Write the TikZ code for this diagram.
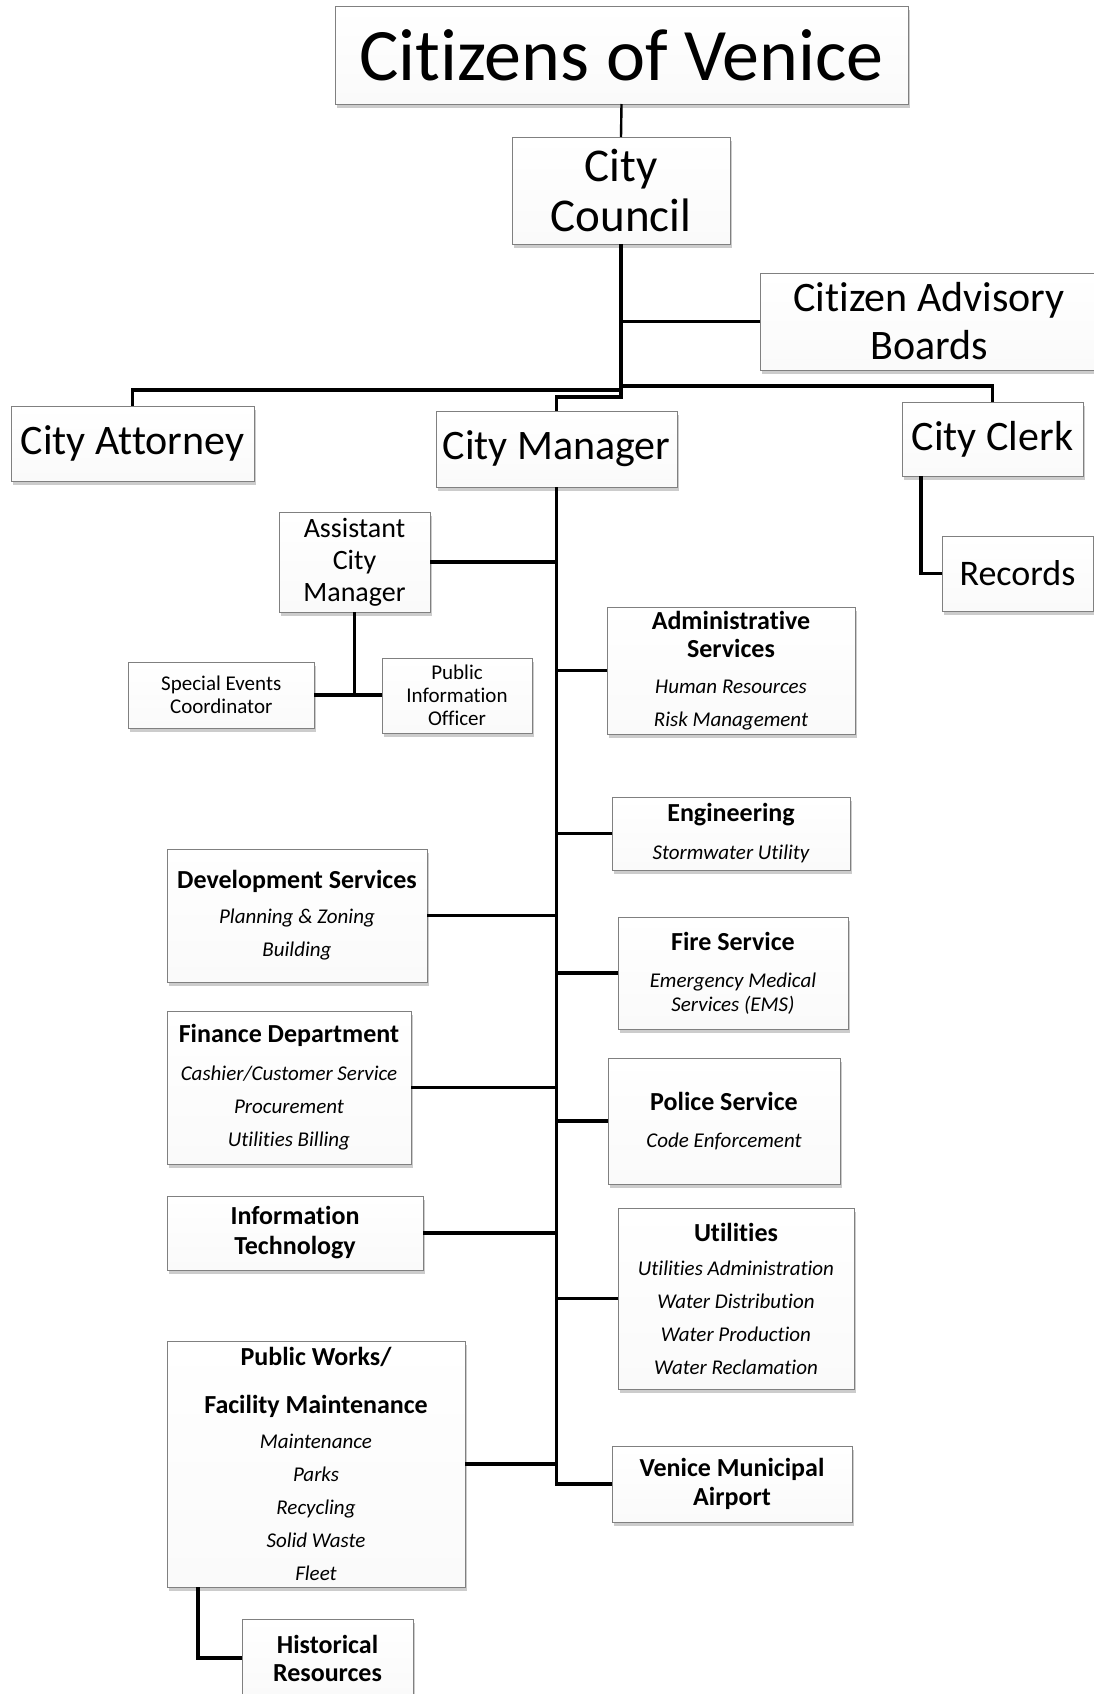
\documentclass[tikz,border=0pt]{standalone}
\usepackage{fontspec}
\setmainfont{Carlito}[Ligatures={NoCommon}]
\usetikzlibrary{shadows}
\newcommand\dhead[1]{{\fontsize{26}{28}\selectfont\bfseries #1}}
\newcommand\ditem[1]{{\fontsize{21}{24}\selectfont\itshape #1}}
\newcommand\orgbox[7][]{\node[box,#1,minimum width={(#5-#3)*1pt},minimum height={(#6-#4)*1pt}] (#2) at ({(#3+#5)/2},{(#4+#6)/2}) {#7};}
\tikzset{
  box/.style={draw=black!50, line width=1pt, inner sep=0pt, outer sep=0pt, align=center,
    top color=white, bottom color=black!2,
    drop shadow={shadow xshift=1.5pt, shadow yshift=-3.5pt, opacity=0.2, fill=black},
    font=\fontsize{21}{33}\selectfont},
  conn/.style={line width=3.2pt, draw=black},
  thinconn/.style={line width=2.4pt, draw=black}
}
\begin{document}
\begin{tikzpicture}[x=1pt,y=-1pt]
\useasboundingbox (0,0) rectangle (1094,1694);
% top level
\orgbox[font=\fontsize{74}{80}\selectfont]{cov}{335}{6.5}{908}{104}{Citizens of Venice}
\orgbox[font=\fontsize{47}{50}\selectfont]{cc}{512}{137}{730}{244}{City\\Council}
\orgbox[font=\fontsize{42}{48}\selectfont]{adv}{760}{273}{1098}{370}{Citizen Advisory\\Boards}
\orgbox[font=\fontsize{42}{48}\selectfont]{att}{11}{406}{254}{481}{City Attorney}
\orgbox[font=\fontsize{42}{48}\selectfont]{cm}{436}{411}{677}{487}{City Manager}
\orgbox[font=\fontsize{42}{48}\selectfont]{clerk}{902}{402}{1083}{476}{City Clerk}
\orgbox[font=\fontsize{36}{40}\selectfont]{rec}{942}{536}{1093}{611}{Records}
% assistant city manager group
\orgbox[font=\fontsize{28}{32}\selectfont]{acm}{279}{512}{430}{612}{Assistant\\City\\Manager}
\orgbox[font=\fontsize{21}{23}\selectfont]{sec}{128.5}{662}{314}{728}{Special Events\\Coordinator}
\orgbox[font=\fontsize{21}{23}\selectfont]{pio}{382}{658}{532}{733}{Public\\Information\\Officer}
% right-hand departments
\orgbox{admin}{607}{607}{855}{734}{\dhead{Administrative}\\[-5pt]\dhead{Services}\\[3pt]\ditem{Human Resources}\\\ditem{Risk Management}}
\orgbox{eng}{612}{797}{850}{870}{\dhead{Engineering}\\[5pt]\ditem{Stormwater Utility}}
\orgbox{fire}{618}{917}{848}{1029}{\dhead{Fire Service}\\[4pt]\ditem{Emergency Medical}\\[-9pt]\ditem{Services (EMS)}}
\orgbox{police}{608}{1058}{840}{1184}{\dhead{Police Service}\\[4pt]\ditem{Code Enforcement}}
\orgbox{util}{618}{1208}{854}{1389}{\dhead{Utilities}\\[1pt]\ditem{Utilities Administration}\\\ditem{Water Distribution}\\\ditem{Water Production}\\\ditem{Water Reclamation}}
\orgbox{air}{612}{1446}{852}{1522}{\dhead{Venice Municipal}\\[-4pt]\dhead{Airport}}
% left-hand departments
\orgbox{dev}{167}{849}{427}{982}{\dhead{Development Services}\\[2pt]\ditem{Planning \& Zoning}\\\ditem{Building}}
\orgbox{fin}{167}{1011}{411}{1164}{\dhead{Finance Department}\\[5pt]\ditem{Cashier/Customer Service}\\\ditem{Procurement}\\\ditem{Utilities Billing}}
\orgbox{it}{167}{1196}{423}{1270}{\dhead{Information}\\[-3pt]\dhead{Technology}}
\orgbox{pw}{167}{1341}{465}{1587}{\dhead{Public Works/}\\[15pt]\dhead{Facility Maintenance}\\[2pt]\ditem{Maintenance}\\\ditem{Parks}\\\ditem{Recycling}\\\ditem{Solid Waste}\\\ditem{Fleet}}
\orgbox{hist}{242}{1619}{413}{1697}{\dhead{Historical}\\[-5pt]\dhead{Resources}}
% junction points below the City Council
\coordinate (jm) at (cc.south |- 0,397);
\coordinate (jl) at (cc.south |- 0,390);
\coordinate (jr) at (cc.south |- 0,386);
% connectors
\draw[thinconn] (cov.south) -- (cc.north);
\draw[conn] (cc.south) -- (jm) -| (cm.north);
\draw[conn] (adv.west) -- (adv.west -| cc.south);
\draw[conn] (jl) -| (att.north);
\draw[conn] (jr) -| (clerk.north);
\draw[conn] ([xshift=19pt]clerk.south west) |- (rec.west);
\draw[conn] (cm.south) |- (air.west);
\draw[conn] (acm.east) -- (acm.east -| cm.south);
\draw[conn] (acm.south) |- (sec.east);
\draw[conn] (sec.east) -- (sec.east -| pio.west);
\draw[conn] (admin.west) -- (admin.west -| cm.south);
\draw[conn] (eng.west) -- (eng.west -| cm.south);
\draw[conn] (fire.west) -- (fire.west -| cm.south);
\draw[conn] (police.west) -- (police.west -| cm.south);
\draw[conn] (util.west) -- (util.west -| cm.south);
\draw[conn] (dev.east) -- (dev.east -| cm.south);
\draw[conn] (fin.east) -- (fin.east -| cm.south);
\draw[conn] (it.east) -- (it.east -| cm.south);
\draw[conn] (pw.east) -- (pw.east -| cm.south);
\draw[conn] ([xshift=31pt]pw.south west) |- (hist.west);
\end{tikzpicture}
\end{document}
